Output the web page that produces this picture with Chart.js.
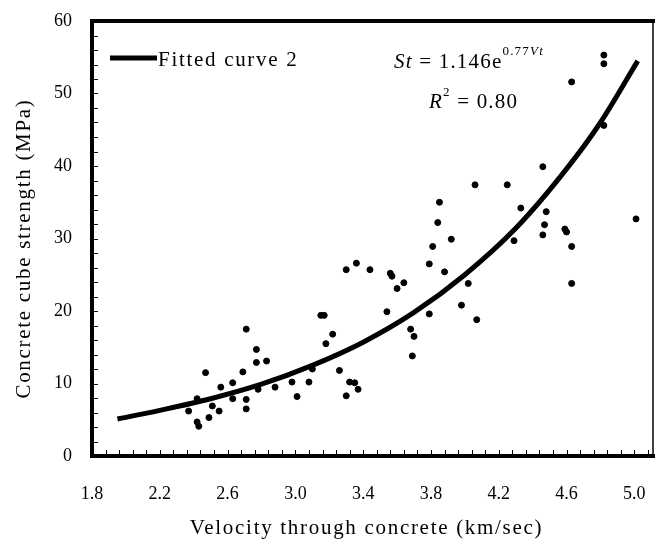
<!DOCTYPE html>
<html>
<head>
<meta charset="utf-8">
<script src="https://cdn.jsdelivr.net/npm/chart.js@4.4.0/dist/chart.umd.min.js"></script>
<style>
html, body { margin: 0; padding: 0; background: #fff; }
</style>
</head>
<body>
<canvas id="chart" width="657" height="550"></canvas>
<script>
// Measured points (km/sec, MPa)
const velocity = [2.42, 2.43, 2.49, 2.37, 2.55, 2.51, 2.71, 2.71, 2.42, 2.63,
  2.56, 2.63, 2.78, 2.88, 2.98, 3.01, 3.08, 3.10, 2.47, 2.69,
  2.77, 2.83, 2.77, 2.71, 3.18, 3.22, 3.26, 3.30, 3.32, 3.35,
  3.37, 3.15, 3.17, 3.30, 3.36, 3.44, 3.54, 3.56, 3.57, 3.60,
  3.64, 3.68, 3.70, 3.69, 3.79, 3.79, 3.81, 3.84, 3.85, 3.88,
  3.92, 3.98, 4.02, 4.07, 4.06, 4.25, 4.29, 4.33, 4.46, 4.48,
  4.47, 4.46, 4.59, 4.60, 4.63, 4.63, 4.63, 4.82, 4.82, 4.82, 5.01];
const strength = [4.7, 4.1, 5.3, 6.2, 6.2, 6.9, 6.5, 7.8, 7.9, 7.9,
  9.5, 10.1, 9.2, 9.5, 10.2, 8.2, 10.2, 12.0, 11.5, 11.6,
  12.9, 13.1, 14.7, 17.5, 15.5, 16.8, 11.8, 8.3, 10.2, 10.1,
  9.2, 19.4, 19.4, 25.7, 26.6, 25.7, 19.9, 25.2, 24.8, 23.1,
  23.9, 17.5, 16.5, 13.8, 19.6, 26.5, 28.9, 32.2, 35.0, 25.4,
  29.9, 20.8, 23.8, 18.8, 37.4, 37.4, 29.7, 34.2, 39.9, 33.7,
  31.9, 30.5, 31.3, 30.9, 28.9, 23.8, 51.6, 55.3, 54.1, 45.6, 32.7];

// Fitted curve 2
const curveVelocity = [1.95, 2.2, 2.5, 2.8, 3.1, 3.4, 3.7, 4.0, 4.3, 4.6, 4.8, 5.02];
const curveStrength = [5.1, 6.3, 7.9, 9.9, 12.5, 15.7, 19.8, 25.0, 31.4, 39.6, 46.0, 54.5];

const xTicks = [1.8, 2.2, 2.6, 3.0, 3.4, 3.8, 4.2, 4.6, 5.0];
const yTicks = [0, 10, 20, 30, 40, 50, 60];
const X_MIN = 1.8, X_MAX = 5.11, X_MINOR = 0.08;
const Y_MIN = 0, Y_MAX = 60, Y_MINOR = 2;

const X_TITLE = 'Velocity through concrete (km/sec)';
const Y_TITLE = 'Concrete cube strength (MPa)';

const SERIF = "'Liberation Serif', 'Times New Roman', serif";

// frame, inside minor ticks, axis titles, legend and equation
const decorations = {
  id: 'decorations',
  afterDraw(chart) {
    const { ctx, chartArea: a, scales: { x, y } } = chart;
    ctx.save();
    ctx.strokeStyle = '#000';
    ctx.fillStyle = '#000';

    ctx.lineWidth = 1;
    ctx.beginPath();
    for (let i = 1; X_MIN + i * X_MINOR < X_MAX; i++) {
      const px = Math.round(x.getPixelForValue(X_MIN + i * X_MINOR)) + 0.5;
      ctx.moveTo(px, a.bottom);
      ctx.lineTo(px, a.bottom - 6);
    }
    for (let i = 1; Y_MIN + i * Y_MINOR < Y_MAX; i++) {
      const py = Math.round(y.getPixelForValue(Y_MIN + i * Y_MINOR)) + 0.5;
      ctx.moveTo(a.left, py);
      ctx.lineTo(a.left + 6, py);
    }
    ctx.stroke();

    ctx.lineWidth = 1.5;
    ctx.beginPath();
    ctx.moveTo(a.right, a.top);
    ctx.lineTo(a.right, a.bottom);
    ctx.stroke();

    ctx.lineWidth = 4;
    ctx.lineCap = 'square';
    ctx.beginPath();
    ctx.moveTo(a.right, a.top);
    ctx.lineTo(a.left, a.top);
    ctx.lineTo(a.left, a.bottom);
    ctx.lineTo(a.right, a.bottom);
    ctx.stroke();

    // axis titles
    ctx.letterSpacing = '1.7px';
    ctx.font = '21px ' + SERIF;
    ctx.textBaseline = 'middle';
    ctx.textAlign = 'center';
    ctx.fillText(X_TITLE, (a.left + a.right) / 2 - 6, 528);
    ctx.save();
    ctx.translate(24, (a.top + a.bottom) / 2 + 10);
    ctx.rotate(-Math.PI / 2);
    ctx.fillText(Y_TITLE, 0, 0);
    ctx.restore();

    // legend
    const fit = chart.data.datasets[1];
    ctx.lineCap = 'butt';
    ctx.lineWidth = 5;
    ctx.beginPath();
    ctx.moveTo(a.left + 18, a.top + 37);
    ctx.lineTo(a.left + 65, a.top + 37);
    ctx.stroke();
    ctx.textAlign = 'left';
    ctx.fillText(fit.label, a.left + 66, a.top + 39);

    // equation
    const run = (parts, x0, y0) => {
      let cx = x0;
      parts.forEach(p => {
        ctx.font = p[1];
        ctx.fillText(p[0], cx, y0 + (p[2] || 0));
        cx += ctx.measureText(p[0]).width;
      });
    };
    const it = 'italic 21px ' + SERIF, rg = '21px ' + SERIF;
    const sit = 'italic 13px ' + SERIF, srg = '13px ' + SERIF;
    ctx.letterSpacing = '1.2px';
    run([['St', it], [' = 1.146e', rg], ['0.77', srg, -10], ['Vt', sit, -10]], a.left + 302, a.top + 41);
    run([['R', it], ['2', srg, -9], [' = 0.80', rg]], a.left + 337, a.top + 81);
    ctx.restore();
  }
};

const ctx = document.getElementById('chart').getContext('2d');
new Chart(ctx, {
  type: 'scatter',
  data: {
    datasets: [
      {
        label: 'Observed',
        data: velocity.map((v, i) => ({ x: v, y: strength[i] })),
        backgroundColor: '#000',
        borderColor: '#000',
        pointRadius: 3,
        pointHoverRadius: 3,
        order: 1
      },
      {
        label: 'Fitted curve 2',
        data: curveVelocity.map((v, i) => ({ x: v, y: curveStrength[i] })),
        showLine: true,
        borderColor: '#000',
        borderWidth: 5,
        pointRadius: 0,
        cubicInterpolationMode: 'monotone',
        order: 0
      }
    ]
  },
  options: {
    responsive: false,
    animation: false,
    layout: { padding: { top: 21, right: 2, left: 0, bottom: 0 } },
    plugins: {
      legend: { display: false },
      tooltip: { enabled: false }
    },
    scales: {
      x: {
        type: 'linear',
        min: X_MIN,
        max: X_MAX,
        grid: { display: false, drawTicks: false },
        border: { display: false },
        afterBuildTicks: s => { s.ticks = xTicks.map(v => ({ value: v })); },
        afterFit: s => { s.height = 94; s.paddingLeft = 0; s.paddingRight = 0; },
        ticks: {
          padding: 27,
          color: '#000',
          font: { family: SERIF, size: 18 },
          callback: v => v.toFixed(1)
        }
      },
      y: {
        min: Y_MIN,
        max: Y_MAX,
        grid: { display: false, drawTicks: false },
        border: { display: false },
        afterBuildTicks: s => { s.ticks = yTicks.map(v => ({ value: v })); },
        afterFit: s => { s.width = 92; s.paddingTop = 0; s.paddingBottom = 0; },
        ticks: {
          padding: 20,
          color: '#000',
          font: { family: SERIF, size: 18 }
        }
      }
    }
  },
  plugins: [decorations]
});
</script>
</body>
</html>
